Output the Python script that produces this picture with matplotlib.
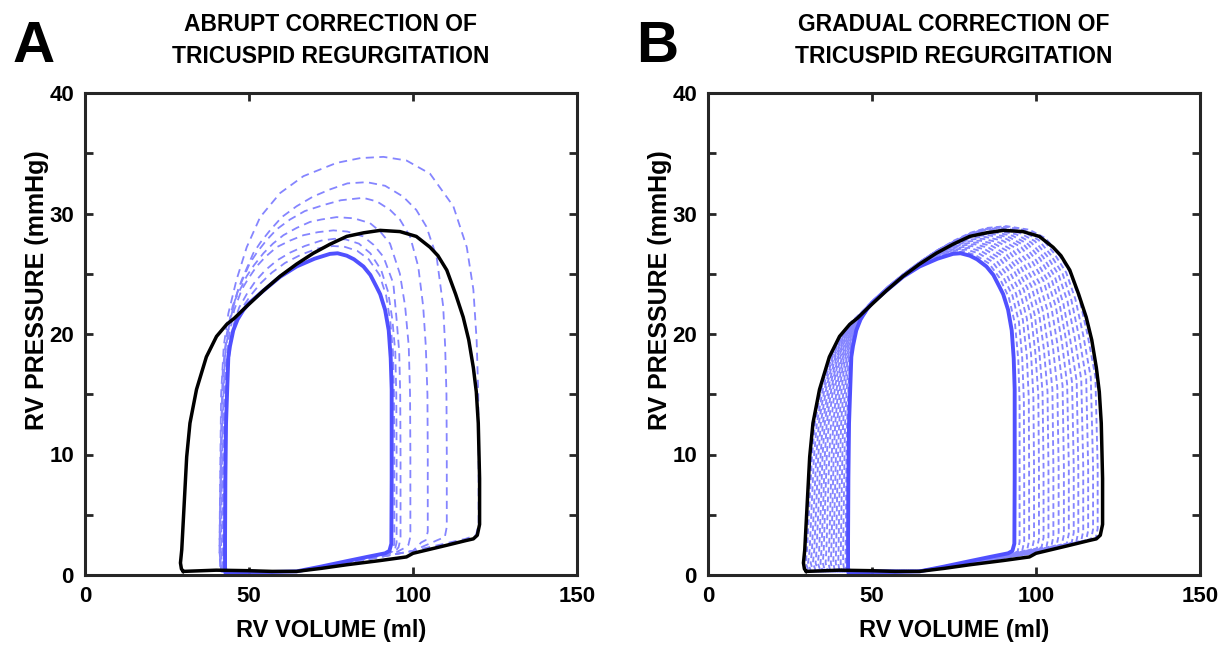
import numpy as np
import matplotlib.pyplot as plt

plt.rcParams['font.family'] = ['Liberation Sans', 'DejaVu Sans']
plt.rcParams['font.weight'] = 'bold'

# RV pressure-volume loops, (volume ml, pressure mmHg), counterclockwise from bottom-left

# steady state with tricuspid regurgitation (black)
tr_loop = [(30.0, 0.3), (40, 0.4), (49.3, 0.36), (57, 0.3), (64.5, 0.3), (72, 0.55), (79.8, 0.85),
           (90, 1.2), (98, 1.5), (100, 1.8), (110, 2.45), (116, 2.85), (118.4, 3.0), (119.6, 3.3),
           (120.3, 4.2), (120.3, 8), (119.9, 12.6), (119.3, 15.2), (118.4, 17.2), (117, 19.5),
           (115.3, 21.4), (113, 23.3), (110.3, 25.3), (107.6, 26.5), (105.2, 27.2), (101, 28.1),
           (96, 28.5), (90, 28.6), (85, 28.4), (79.8, 28.1), (74.7, 27.45), (69.6, 26.7), (64.5, 25.8),
           (59.5, 24.8), (54.4, 23.6), (49.3, 22.3), (45.5, 21.3), (43.2, 20.8), (40.1, 19.8),
           (37, 18.1), (34, 15.4), (32, 12.6), (31, 9.8), (30.2, 5.7), (29.5, 2.1), (29.1, 1.0),
           (29.4, 0.5)]

# steady state after correction (solid blue)
corrected_loop = [(42.9, 0.2), (50, 0.25), (57, 0.25), (64.5, 0.3), (72, 0.7), (79.8, 1.15), (86, 1.5),
                  (91.5, 1.8), (92.8, 2.0), (93.4, 2.6), (93.5, 8), (93.5, 15.4), (93.2, 18),
                  (92.6, 20.3), (91.5, 22), (90, 23.3), (88.9, 23.9), (87, 24.9), (84.9, 25.6),
                  (82, 26.2), (79.8, 26.5), (77, 26.7), (74.7, 26.65), (70, 26.25), (64.5, 25.6),
                  (59.5, 24.75), (54.4, 23.6), (50, 22.55), (48.3, 22.0), (46.5, 21.2), (45.2, 20.3),
                  (44.2, 19.0), (43.7, 18.1), (43.3, 15), (43, 12.6), (42.8, 8), (42.7, 3), (42.7, 0.6)]

# transient beats after abrupt correction (panel A, dashed)
abrupt_1 = [(41.5, 0.3), (50, 0.35), (64, 0.3), (80, 1.0), (100, 2.0), (116, 3.0), (119.2, 3.3),
            (120, 4.2), (120, 10), (119.9, 15), (119.4, 19.5), (118.4, 23.7), (116.4, 27.2),
            (112.3, 30.6), (105.2, 33.3), (98, 34.4), (91, 34.7), (84, 34.6), (76.7, 34.2),
            (66.6, 33.1), (59.5, 31.7), (53.4, 29.7), (49.3, 27.2), (46.2, 24.5), (43.7, 21.7),
            (42.3, 19), (41.5, 15), (41.2, 8), (41.0, 2)]
abrupt_2 = [(41.3, 0.3), (50, 0.35), (64, 0.3), (80, 1.0), (100, 2.0), (107.5, 2.9), (109.7, 3.15),
            (110.3, 4.0), (110.3, 10), (110.2, 15), (109.8, 19), (109.2, 22.3), (107.2, 26.4),
            (104.1, 28.9), (101, 30.3), (97, 31.4), (91.5, 32.3), (85.9, 32.6), (80, 32.5),
            (74.7, 32), (69.5, 31.4), (64.5, 30.6), (60, 29.7), (56.4, 28.6), (53.5, 27.6),
            (51.3, 26.7), (47.8, 24.5), (45, 22.3), (43.2, 20), (42, 17), (41.5, 12), (41.2, 6),
            (41, 2)]
abrupt_3 = [(41.5, 0.3), (50, 0.35), (64, 0.3), (80, 1.0), (100, 2.0), (102.5, 2.7), (103.9, 2.9),
            (104.5, 3.6), (104.5, 10), (104.4, 15), (103.9, 19), (103.1, 22.3), (101.6, 25.6),
            (99.1, 28.1), (96, 29.5), (93, 30.3), (89, 31.0), (84.8, 31.3), (78, 31.1),
            (72.7, 30.7), (67, 30.2), (62.5, 29.5), (58.5, 28.7), (55.4, 27.8), (52.5, 26.8),
            (50.3, 25.9), (46.7, 23.7), (44.3, 21.3), (42.8, 18.8), (42, 15), (41.6, 10),
            (41.3, 5), (41.2, 2)]
abrupt_4 = [(41.8, 0.3), (50, 0.35), (64, 0.3), (80, 1.0), (95, 1.9), (97.8, 2.3), (98.6, 2.5),
            (99.2, 3.2), (99.2, 10), (99.1, 15), (98.7, 19), (97.6, 22.3), (96, 25), (93, 27.5),
            (90, 28.5), (86.9, 29.2), (82, 29.6), (76.7, 29.7), (72, 29.5), (68.6, 29.3),
            (64.5, 28.8), (60.5, 28.2), (57.3, 27.5), (54.4, 26.7), (51.5, 25.7), (49.3, 24.8),
            (45.7, 22.8), (44, 20.8), (42.8, 18.5), (42.2, 15), (41.8, 10), (41.6, 5), (41.5, 2)]
abrupt_5 = [(42, 0.3), (50, 0.35), (64, 0.3), (80, 1.0), (92, 1.8), (95, 2.1), (95.6, 2.3),
            (96.2, 3.0), (96.2, 10), (96.1, 15), (95.8, 18.5), (95, 21.2), (94, 24.2), (91, 26.4),
            (88, 27.4), (84.8, 28.1), (80, 28.5), (75.7, 28.6), (71, 28.45), (66.6, 28.2),
            (62.5, 27.75), (58.4, 27.2), (55, 26.4), (52.3, 25.6), (49.8, 24.6), (47.8, 23.7),
            (45.5, 22), (44, 20), (43, 17.5), (42.4, 14), (42.1, 10), (41.9, 5), (41.8, 2)]
abrupt_6 = [(42.2, 0.3), (50, 0.35), (64, 0.3), (80, 1.05), (92, 1.8), (94.4, 2.0), (95, 2.7),
            (95, 10), (94.9, 15), (94.6, 18.5), (93.7, 21.2), (92.4, 23.5), (90.3, 25.3),
            (87, 26.7), (83.5, 27.5), (79.5, 27.85), (76, 27.9), (72, 27.75), (67, 27.3),
            (62.5, 26.75), (58.5, 26.1), (55, 25.3), (52, 24.4), (49.5, 23.4), (47, 22.2),
            (45, 20.5), (43.8, 18.5), (43, 15.5), (42.5, 11), (42.3, 6), (42.2, 2)]
abrupt_7 = [(42.4, 0.3), (50, 0.35), (64, 0.3), (80, 1.1), (91.5, 1.8), (93.7, 1.95), (94.3, 2.6),
            (94.3, 10), (94.2, 15), (93.9, 18.5), (93.1, 21), (91.8, 23.2), (89.8, 24.9),
            (86.5, 26.2), (83, 26.9), (79, 27.25), (75.5, 27.3), (71, 27.1), (66, 26.6), (61, 25.9),
            (57, 25.1), (53.5, 24.2), (50.5, 23.2), (48, 22.2), (46, 21), (44.5, 19.3), (43.5, 17),
            (42.9, 13.5), (42.6, 9), (42.5, 4), (42.4, 1.5)]

# transient beats during gradual correction (panel B, dashed), outermost first
gradual_01 = [(30.7, 0.3), (40, 0.35), (50, 0.4), (64, 0.35), (80, 1.0), (100, 1.9), (115.8, 2.85),
              (118.2, 3.05), (118.8, 3.85), (118.8, 9), (118.1, 16.45), (115.7, 19.95), (113.2, 22.95),
              (110.3, 25.15), (106.6, 26.75), (102.9, 27.95), (98.0, 28.65), (91, 28.95), (85, 28.8),
              (80, 28.4), (75, 27.75), (70, 26.95), (65, 26.05), (60, 25.05), (55, 23.95), (50, 22.7),
              (46.4, 21.7), (43.7, 21.0), (40.4, 19.8), (37.2, 18.0), (34.5, 15.4), (32.6, 12.6),
              (31.7, 9.8), (30.9, 5.7), (30.2, 2.1), (29.8, 1.0)]
gradual_02 = [(31.4, 0.3), (40, 0.35), (50, 0.4), (64, 0.35), (80, 1.0), (100, 1.9), (114.4, 2.8),
              (116.8, 3.0), (117.4, 3.8), (117.4, 9), (116.7, 16.4), (114.4, 19.9), (112.0, 22.9),
              (109.2, 25.1), (105.5, 26.7), (101.9, 27.9), (97.0, 28.6), (90.6, 28.9), (85, 28.75),
              (80, 28.35), (75, 27.7), (70, 26.95), (65, 26.05), (60, 25.05), (55, 23.95), (50, 22.7),
              (46.5, 21.7), (43.9, 21.0), (40.6, 19.8), (37.6, 18.0), (35.0, 15.4), (33.2, 12.6),
              (32.3, 9.8), (31.6, 5.7), (31.0, 2.1), (30.5, 1.0)]
gradual_03 = [(32.1, 0.3), (40, 0.35), (50, 0.4), (64, 0.35), (80, 1.0), (100, 1.88), (112.9, 2.72),
              (115.3, 2.9), (115.9, 3.7), (115.9, 9), (115.3, 16.3), (113.1, 19.8), (110.8, 22.8),
              (108.1, 25.0), (104.4, 26.6), (100.8, 27.8), (96.0, 28.5), (89.8, 28.8), (85, 28.7),
              (80, 28.33), (75, 27.68), (70, 26.95), (65, 26.05), (60, 25.05), (55, 23.95), (50, 22.7),
              (46.6, 21.7), (44.0, 21.0), (40.9, 19.8), (37.9, 18.0), (35.5, 15.4), (33.8, 12.6),
              (33.0, 9.8), (32.3, 5.7), (31.7, 2.1), (31.3, 1.0)]
gradual_04 = [(32.9, 0.3), (40, 0.35), (50, 0.4), (64, 0.35), (80, 1.0), (100, 1.85), (111.4, 2.65),
              (113.8, 2.85), (114.4, 3.65), (114.4, 9), (113.8, 16.2), (111.8, 19.7), (109.6, 22.7),
              (106.9, 24.9), (103.3, 26.5), (99.7, 27.7), (94.9, 28.4), (88.9, 28.7), (85, 28.65),
              (80, 28.3), (75, 27.65), (70, 26.95), (65, 26.05), (60, 25.05), (55, 23.95), (50, 22.7),
              (46.7, 21.7), (44.2, 21.0), (41.2, 19.8), (38.3, 18.0), (36.0, 15.4), (34.4, 12.6),
              (33.6, 9.8), (33.0, 5.7), (32.4, 2.1), (32.0, 1.0)]
gradual_05 = [(33.6, 0.3), (40, 0.35), (50, 0.4), (64, 0.35), (80, 1.0), (100, 1.85), (110, 2.6),
              (112.3, 2.78), (112.9, 3.58), (112.9, 9), (112.4, 16.08), (110.4, 19.58), (108.3, 22.58),
              (105.7, 24.78), (102.2, 26.38), (98.6, 27.58), (93.9, 28.28), (88.0, 28.58),
              (84, 28.45), (80, 28.28), (75, 27.65), (70, 26.95), (65, 26.05), (60, 25.05),
              (55, 23.95), (50, 22.7), (46.8, 21.7), (44.3, 21.0), (41.4, 19.8), (38.7, 18.0),
              (36.6, 15.4), (35.0, 12.6), (34.3, 9.8), (33.7, 5.7), (33.1, 2.1), (32.8, 1.0)]
gradual_06 = [(34.3, 0.3), (40, 0.35), (50, 0.4), (64, 0.35), (80, 1.0), (100, 1.85), (108.5, 2.5),
              (110.9, 2.7), (111.5, 3.5), (111.5, 9), (111.0, 15.95), (109.2, 19.45), (107.2, 22.45),
              (104.6, 24.65), (101.2, 26.25), (97.6, 27.45), (92.9, 28.15), (87.2, 28.45),
              (80, 28.25), (75, 27.65), (70, 26.95), (65, 26.05), (60, 25.05), (55, 23.95), (50, 22.7),
              (46.9, 21.7), (44.4, 21.0), (41.7, 19.8), (39.1, 18.0), (37.1, 15.4), (35.6, 12.6),
              (34.9, 9.8), (34.4, 5.7), (33.9, 2.1), (33.5, 1.0)]
gradual_07 = [(35.0, 0.3), (40, 0.34), (50, 0.39), (64, 0.34), (80, 1.0), (97, 1.8), (107, 2.43),
              (109.4, 2.62), (110, 3.42), (110, 9), (109.5, 15.82), (107.9, 19.32), (106.0, 22.32),
              (103.4, 24.52), (100.0, 26.12), (96.6, 27.32), (91.9, 28.02), (86.3, 28.32),
              (80, 28.18), (75, 27.62), (70, 26.92), (65, 26.02), (60, 25.02), (55, 23.92),
              (50, 22.68), (47.0, 21.7), (44.6, 21.0), (41.9, 19.8), (39.5, 18.0), (37.6, 15.4),
              (36.2, 12.6), (35.6, 9.8), (35.1, 5.7), (34.6, 2.1), (34.3, 1.0)]
gradual_08 = [(35.7, 0.3), (40, 0.33), (50, 0.38), (64, 0.33), (80, 1.0), (95, 1.75), (105.5, 2.35),
              (107.9, 2.55), (108.5, 3.35), (108.5, 9), (108.1, 15.7), (106.5, 19.2), (104.7, 22.2),
              (102.3, 24.4), (98.9, 26.0), (95.5, 27.2), (90.9, 27.9), (85.5, 28.2), (80, 28.1),
              (75, 27.6), (70, 26.9), (65, 26.0), (60, 25.0), (55, 23.9), (50, 22.65), (47.1, 21.7),
              (44.7, 21.0), (42.2, 19.8), (39.8, 18.0), (38.1, 15.4), (36.8, 12.6), (36.2, 9.8),
              (35.7, 5.7), (35.3, 2.1), (35.0, 1.0)]
gradual_09 = [(36.5, 0.3), (50, 0.36), (64, 0.31), (80, 1.0), (95, 1.72), (104, 2.3), (106.3, 2.48),
              (106.9, 3.28), (106.9, 9), (106.5, 15.55), (105.1, 19.05), (103.4, 22.05), (101.0, 24.25),
              (97.7, 25.85), (94.3, 27.05), (89.8, 27.75), (84.6, 28.05), (80, 27.98), (75, 27.52),
              (70, 26.85), (65, 25.98), (60, 25.0), (55, 23.9), (50, 22.65), (47.2, 21.7),
              (44.85, 21.0), (42.5, 19.8), (40.25, 18.0), (38.65, 15.4), (37.5, 12.6), (36.95, 9.8),
              (36.5, 5.7), (36.1, 2.1), (35.85, 1.0)]
gradual_10 = [(37.3, 0.3), (50, 0.35), (64, 0.3), (80, 1.0), (95, 1.7), (102.3, 2.2), (104.7, 2.4),
              (105.3, 3.2), (105.3, 9), (105.0, 15.4), (103.7, 18.9), (102.1, 21.9), (99.8, 24.1),
              (96.5, 25.7), (93.1, 26.9), (88.7, 27.6), (83.8, 27.9), (80, 27.85), (75, 27.45),
              (70, 26.8), (65, 25.95), (60, 25.0), (55, 23.9), (50, 22.65), (47.3, 21.7), (45.0, 21.0),
              (42.8, 19.8), (40.7, 18.0), (39.2, 15.4), (38.2, 12.6), (37.7, 9.8), (37.3, 5.7),
              (36.9, 2.1), (36.7, 1.0)]
gradual_11 = [(38.0, 0.3), (50, 0.35), (64, 0.3), (80, 1.02), (93, 1.68), (101, 2.15), (103.2, 2.35),
              (103.8, 3.15), (103.8, 9), (103.5, 15.25), (102.4, 18.75), (100.9, 21.75), (98.6, 23.95),
              (95.4, 25.55), (92.1, 26.75), (87.6, 27.45), (82.95, 27.75), (79, 27.68), (75, 27.3),
              (70, 26.75), (65, 25.92), (60, 24.98), (55, 23.88), (50, 22.62), (47.4, 21.7),
              (45.15, 21.0), (43.05, 19.8), (41.05, 18.0), (39.7, 15.4), (38.8, 12.6), (38.3, 9.8),
              (37.95, 5.7), (37.6, 2.1), (37.45, 1.0)]
gradual_12 = [(38.7, 0.3), (50, 0.35), (64, 0.3), (80, 1.05), (92, 1.65), (99.3, 2.1), (101.7, 2.3),
              (102.3, 3.1), (102.3, 9), (102.0, 15.1), (101.0, 18.6), (99.6, 21.6), (97.4, 23.8),
              (94.3, 25.4), (91.0, 26.6), (86.6, 27.3), (82.1, 27.6), (78, 27.5), (74, 27.15),
              (70, 26.7), (65, 25.9), (60, 24.95), (55, 23.85), (50, 22.6), (47.5, 21.7), (45.3, 21.0),
              (43.3, 19.8), (41.4, 18.0), (40.2, 15.4), (39.4, 12.6), (39.0, 9.8), (38.6, 5.7),
              (38.3, 2.1), (38.2, 1.0)]
gradual_13 = [(39.4, 0.3), (50, 0.35), (64, 0.3), (80, 1.08), (91, 1.62), (98, 2.02), (100.3, 2.22),
              (100.9, 3.02), (100.9, 9), (100.7, 14.95), (99.8, 18.45), (98.5, 21.45), (96.3, 23.65),
              (93.3, 25.25), (90.0, 26.45), (85.6, 27.15), (81.25, 27.45), (77, 27.33), (73, 26.98),
              (69, 26.55), (65, 25.88), (60, 24.95), (55, 23.85), (50, 22.6), (47.6, 21.7),
              (45.45, 21.0), (43.6, 19.8), (41.8, 18.0), (40.75, 15.4), (40.0, 12.6), (39.6, 9.8),
              (39.3, 5.7), (39.05, 2.1), (38.95, 1.0)]
gradual_14 = [(40.1, 0.3), (50, 0.35), (64, 0.3), (80, 1.1), (90, 1.6), (96.4, 1.95), (98.8, 2.15),
              (99.4, 2.95), (99.4, 9), (99.2, 14.8), (98.5, 18.3), (97.2, 21.3), (95.1, 23.5),
              (92.1, 25.1), (88.9, 26.3), (84.6, 27.0), (80.4, 27.3), (76, 27.15), (72, 26.8),
              (68, 26.35), (64, 25.75), (60, 24.95), (55, 23.85), (50, 22.6), (47.7, 21.7),
              (45.6, 21.0), (43.8, 19.8), (42.2, 18.0), (41.3, 15.4), (40.6, 12.6), (40.3, 9.8),
              (40.0, 5.7), (39.8, 2.1), (39.7, 1.0)]
gradual_15 = [(40.85, 0.3), (50, 0.35), (64, 0.3), (80, 1.12), (90, 1.6), (95, 1.88), (97.3, 2.08),
              (97.9, 2.88), (97.9, 9), (97.8, 14.65), (97.2, 18.15), (96.0, 21.15), (93.9, 23.35),
              (91.0, 24.95), (87.8, 26.15), (83.5, 26.85), (79.55, 27.15), (75.5, 27.02), (71, 26.65),
              (67, 26.15), (63, 25.55), (60, 24.95), (55, 23.85), (50, 22.6), (47.8, 21.7),
              (45.7, 21.0), (44.1, 19.8), (42.55, 18.0), (41.8, 15.4), (41.2, 12.6), (40.95, 9.8),
              (40.7, 5.7), (40.5, 2.1), (40.45, 1.0)]
gradual_16 = [(41.6, 0.3), (50, 0.35), (64, 0.3), (80, 1.15), (90, 1.6), (93.4, 1.8), (95.8, 2.0),
              (96.4, 2.8), (96.4, 9), (96.3, 14.5), (95.8, 18.0), (94.8, 21.0), (92.8, 23.2),
              (89.9, 24.8), (86.7, 26.0), (82.5, 26.7), (78.7, 27.0), (75, 26.9), (70, 26.5),
              (65, 25.85), (60, 24.95), (55, 23.85), (50, 22.6), (47.9, 21.7), (45.8, 21.0),
              (44.4, 19.8), (42.9, 18.0), (42.3, 15.4), (41.8, 12.6), (41.6, 9.8), (41.4, 5.7),
              (41.2, 2.1), (41.2, 1.0)]
gradual_17 = [(42.2, 0.3), (50, 0.35), (64, 0.3), (80, 1.15), (90, 1.6), (92.5, 1.75), (94.4, 1.95),
              (95.0, 2.75), (95.0, 9), (95.0, 14.35), (94.6, 17.85), (93.6, 20.85), (91.7, 23.05),
              (88.9, 24.65), (85.7, 25.85), (81.5, 26.55), (77.85, 26.85), (74, 26.75), (70, 26.4),
              (65, 25.8), (60, 24.9), (55, 23.8), (50, 22.58), (48.0, 21.7), (45.95, 21.0),
              (44.6, 19.8), (43.3, 18.0), (42.8, 15.4), (42.4, 12.6), (42.2, 9.8), (42.1, 5.7),
              (41.95, 2.1), (41.95, 1.0)]

abrupt_beats = [abrupt_1, abrupt_2, abrupt_3, abrupt_4, abrupt_5, abrupt_6, abrupt_7]
gradual_beats = [gradual_01, gradual_02, gradual_03, gradual_04, gradual_05, gradual_06,
                 gradual_07, gradual_08, gradual_09, gradual_10, gradual_11, gradual_12,
                 gradual_13, gradual_14, gradual_15, gradual_16, gradual_17]

x_ticks = [0, 50, 100, 150]
y_ticks = [0, 5, 10, 15, 20, 25, 30, 35, 40]
y_ticklabels = ['0', '', '10', '', '20', '', '30', '', '40']

titles = ['ABRUPT CORRECTION OF\nTRICUSPID REGURGITATION',
          'GRADUAL CORRECTION OF\nTRICUSPID REGURGITATION']
panel_letters = ['A', 'B']

BLUE = '#5050ff'
LIGHT_BLUE = '#8585ff'
FRAME = '#262626'
W, H = 1226, 646


def closed(pts):
    a = np.array(pts + [pts[0]])
    return a[:, 0], a[:, 1]


def style_axes(ax):
    ax.set_xlim(0, 150)
    ax.set_ylim(0, 40)
    ax.set_xticks(x_ticks)
    ax.set_xticklabels([str(t) for t in x_ticks])
    ax.set_yticks(y_ticks)
    ax.set_yticklabels(y_ticklabels)
    ax.tick_params(direction='in', length=5.5, width=2, color=FRAME, labelsize=16,
                   top=True, right=True)
    ax.tick_params(axis='x', pad=8)
    ax.tick_params(axis='y', pad=8)
    for s in ax.spines.values():
        s.set_linewidth(2.2)
        s.set_color(FRAME)


fig = plt.figure(figsize=(W / 100, H / 100), dpi=100)
left_px = [85, 708]
ax_w, ax_b, ax_h = 492, 71, 482

for i, beats in enumerate([abrupt_beats, gradual_beats]):
    ax = fig.add_axes([left_px[i] / W, ax_b / H, ax_w / W, ax_h / H])
    if i == 0:
        dash, lw = (0, (4.5, 3)), 1.3
    else:
        dash, lw = (0, (3, 1.8)), 1.35
    for b in beats:
        v, p = closed(b)
        ax.plot(v, p, color=LIGHT_BLUE, lw=lw, linestyle=dash, zorder=1)
    v, p = closed(corrected_loop)
    ax.plot(v, p, color=BLUE, lw=2.8, solid_joinstyle='round', zorder=2)
    v, p = closed(tr_loop)
    ax.plot(v, p, color='black', lw=2.5, solid_joinstyle='round', zorder=3)
    style_axes(ax)

    cx = (left_px[i] + ax_w / 2) / W
    line1, line2 = titles[i].split('\n')
    fig.text(cx, 1 - 31 / H, line1, ha='center', va='baseline', fontsize=16.5, fontweight='bold')
    fig.text(cx, 1 - 63 / H, line2, ha='center', va='baseline', fontsize=16.5, fontweight='bold')
    fig.text((left_px[i] - 72) / W, 1 - 62 / H, panel_letters[i], ha='left', va='baseline',
             fontsize=42, fontweight='bold')
    fig.text(cx, 1 - 637 / H, 'RV VOLUME (ml)', ha='center', va='baseline',
             fontsize=17, fontweight='bold')
    fig.text((left_px[i] - 48) / W, 1 - 290 / H, 'RV PRESSURE (mmHg)', ha='center', va='center',
             rotation=90, fontsize=18, fontweight='bold')

fig.savefig('out.png', dpi=100)
